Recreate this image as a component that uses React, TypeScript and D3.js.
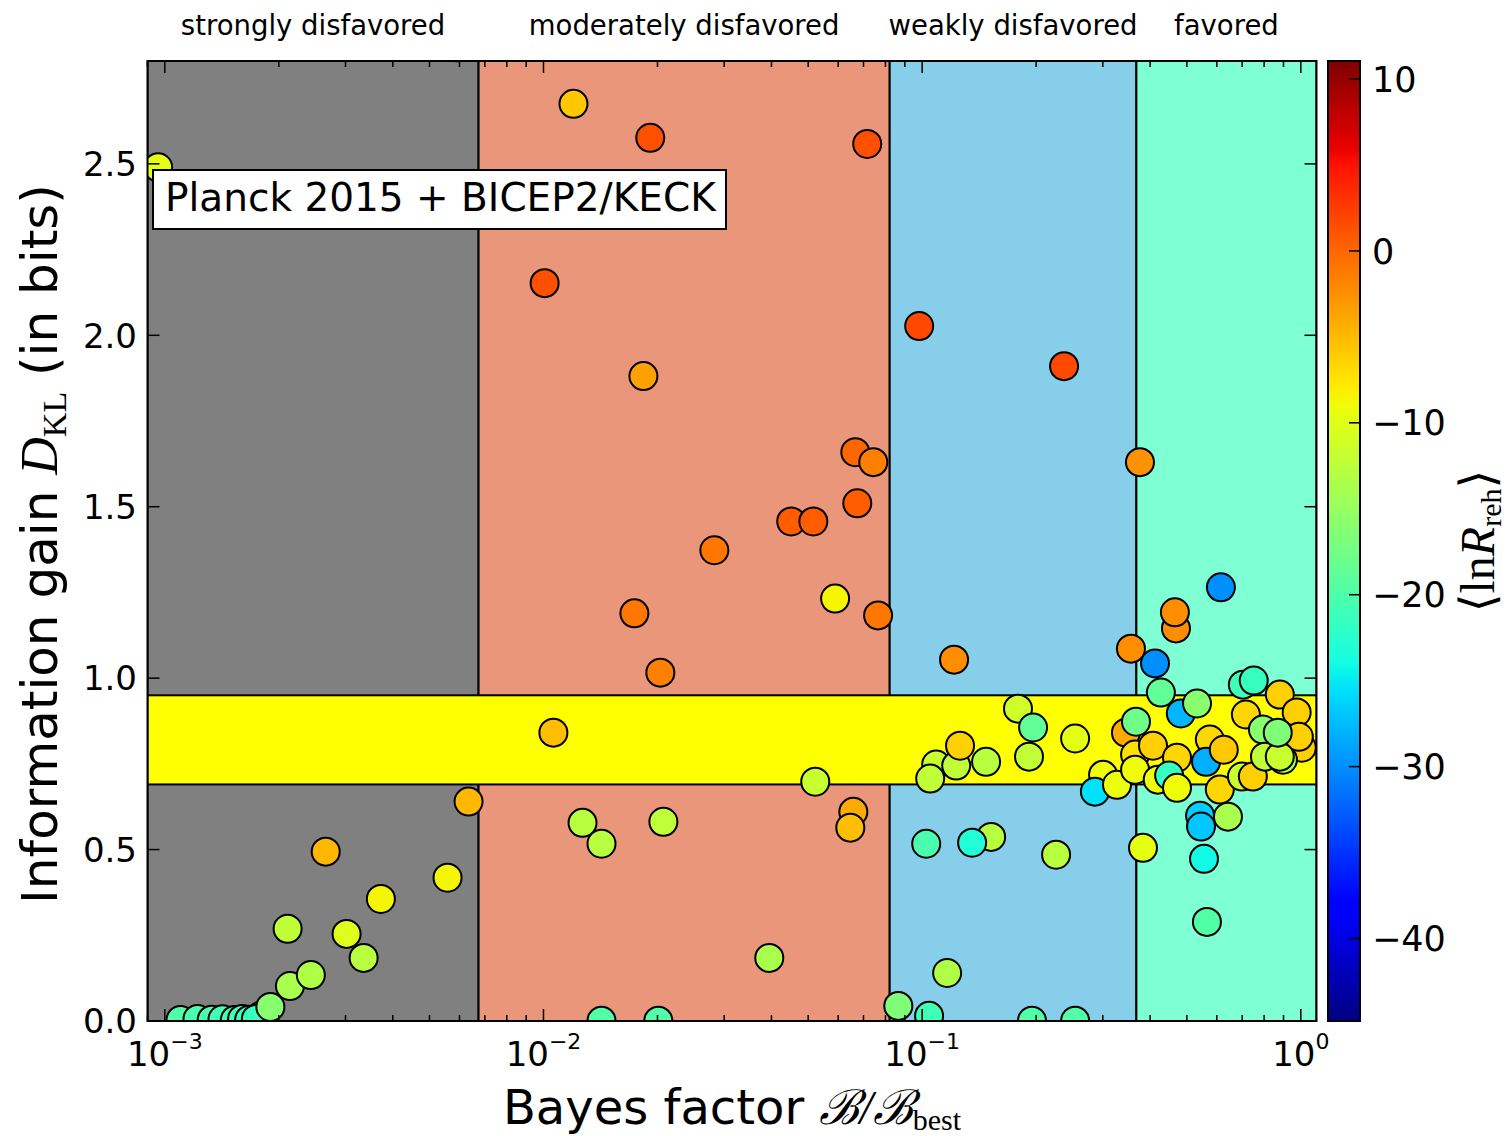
import React from 'react';
import * as d3 from 'd3';

// Bayes factor relative to the best model, per inflationary model
const bayesFactor = [
  // strongly disfavored
  0.00179, 0.0011, 0.00122, 0.00133, 0.00142, 0.00153, 0.0016, 0.00167, 0.00174, 0.0019,
  0.00214, 0.00243, 0.00211, 0.00335, 0.00302, 0.00372, 0.00558, 0.00266, 0.00634, 0.00096, 0.0059,
  // moderately disfavored
  0.012, 0.01914, 0.0716, 0.01007, 0.01836, 0.0666, 0.0743, 0.0451, 0.0516, 0.0674,
  0.02826, 0.0589, 0.01738, 0.0765, 0.02035, 0.01062, 0.0522, 0.0658, 0.0646, 0.01268,
  0.01423, 0.02073, 0.03947, 0.01423, 0.0201, 0.0865,
  // weakly disfavored
  0.0982, 0.237, 0.1214, 0.1089, 0.123, 0.1259, 0.1475, 0.105, 0.1791, 0.1963,
  0.1915, 0.2535, 0.3004, 0.2859, 0.327, 0.1025, 0.1521, 0.1355, 0.2258, 0.1043,
  0.1164, 0.195, 0.2535,
  // favored
  0.356, 0.3453, 0.376, 0.615, 0.468, 0.465, 0.412, 0.427, 0.482, 0.532,
  0.367, 0.703, 0.751, 0.88, 0.975, 0.716, 0.365, 0.365, 0.407, 0.419,
  0.471, 0.449, 0.471, 0.575, 0.562, 0.626, 0.611, 0.794, 0.699, 0.747,
  1.006, 0.897, 0.988, 0.804, 0.88, 0.869, 0.542, 0.545, 0.642, 0.383,
  0.555, 0.565,
];

// Information gain D_KL (bits)
const infoGain = [
  0.015, 0.003, 0.006, 0.004, 0.005, 0.003, 0.006, 0.004, 0.006, 0.041,
  0.102, 0.134, 0.269, 0.184, 0.254, 0.356, 0.418, 0.494, 0.64, 2.49, 2.84,
  2.675, 2.576, 2.558, 2.152, 1.881, 1.659, 1.63, 1.457, 1.457, 1.51,
  1.373, 1.232, 1.189, 1.183, 1.016, 0.841, 0.698, 0.61, 0.564, 0.578,
  0.517, 0.581, 0.184, 0.001, 0.001, 0.044,
  2.027, 1.91, 1.054, 0.748, 0.745, 0.803, 0.756, 0.707, 0.911, 0.856,
  0.771, 0.824, 0.718, 0.669, 0.689, 0.517, 0.537, 0.52, 0.485, 0.015,
  0.14, 0.001, 0.001,
  1.086, 0.841, 1.63, 1.265, 1.145, 1.192, 1.043, 0.958, 0.897, 0.926,
  0.873, 0.981, 0.993, 0.952, 0.9, 0.894, 0.777, 0.733, 0.803, 0.704,
  0.768, 0.716, 0.68, 0.821, 0.756, 0.791, 0.675, 0.85, 0.713, 0.713,
  0.797, 0.762, 0.829, 0.771, 0.771, 0.841, 0.599, 0.567, 0.596, 0.505,
  0.473, 0.289,
];

// Mean log reheating parameter <ln R_reh>
const lnReh = [
  -17, -19.8, -20.3, -20.3, -20.9, -20.9, -20.9, -21.5, -21.5, -16,
  -13.8, -13.3, -12.2, -12.8, -10.2, -8.6, -8.6, -4.8, -4.8, -9.7, -5.2,
  -5.8, 1.3, 1.3, 1.3, -3.5, 0, -1.5, 0.5, 0.5, 0.5,
  -1, -8.6, -1, -1, -1.5, -5.3, -11.7, -4, -5.3, -12.8,
  -12.8, -12.2, -13.8, -19.8, -19.8, -16.6,
  1.7, 1.7, -2.3, -11.7, -12.2, -6.3, -12.8, -12.2, -11.2, -18.7,
  -12.2, -9.7, -9, -25.5, -9.3, -20.3, -12.8, -23, -12.8, -20.9,
  -13.3, -19.8, -19.8,
  -2.3, -4, -2.6, -30, -2.3, -2.3, -30, -18.7, -27.8, -16,
  -17.7, -20.9, -21.5, -6.3, -6.3, -6.7, -7.3, -9, -6.3, -9,
  -6.7, -21.5, -9, -6.7, -28.2, -5.8, -6.7, -16, -11.7, -6.3,
  -6.3, -14, -6.3, -12.2, -11.7, -16.6, -26.5, -26.9, -13.8, -9.7,
  -24.1, -19.8,
];

// Jeffreys-scale evidence classes (edges: ln B = -5, -2.5, -1)
const regionNames = ['strongly disfavored', 'moderately disfavored', 'weakly disfavored', 'favored'];
const regionEdges = [9e-4, Math.exp(-5), Math.exp(-2.5), Math.exp(-1), 1.1];
const bandLimits = [0.69, 0.95];

const yTickValues = [0, 0.5, 1.0, 1.5, 2.0, 2.5];
const xTickExponents = [-3, -2, -1, 0];
const colorTicks = [-40, -30, -20, -10, 0, 10];
const colorDomain = [-44.8, 11.05];

const REGION_FILL = ['#808080', '#e9967a', '#87ceeb', '#7fffd4'];

// matplotlib "jet" colormap
const jetR = d3.scaleLinear<number>().domain([0, 0.35, 0.66, 0.89, 1]).range([0, 0, 1, 1, 0.5]).clamp(true);
const jetG = d3.scaleLinear<number>().domain([0, 0.125, 0.375, 0.64, 0.91, 1]).range([0, 0, 1, 1, 0, 0]).clamp(true);
const jetB = d3.scaleLinear<number>().domain([0, 0.11, 0.34, 0.65, 1]).range([0.5, 1, 1, 0, 0]).clamp(true);
const jet = (t: number) => d3.rgb(jetR(t) * 255, jetG(t) * 255, jetB(t) * 255).formatHex();

const W = 1510;
const H = 1136;
const L = 147.5, R = 1316.5, T = 61, B = 1021;
const CB_L = 1328, CB_R = 1360;

const SANS = 'DejaVu Sans, sans-serif';
const SERIF = 'Liberation Serif, DejaVu Serif, serif';

export default function App() {
  const x = d3.scaleLog().domain([9e-4, 1.1]).range([L, R]);
  const y = d3.scaleLinear().domain([0, 2.8]).range([B, T]);
  const cNorm = d3.scaleLinear().domain(colorDomain).range([0, 1]).clamp(true);
  const cY = d3.scaleLinear().domain(colorDomain).range([B, T]);

  const points = bayesFactor.map((b, i) => ({ b, d: infoGain[i], c: lnReh[i] }));

  const minorTicks: number[] = [];
  for (let e = -4; e <= 0; e++) {
    for (let m = 2; m <= 9; m++) {
      const v = m * Math.pow(10, e);
      if (v > 9e-4 && v < 1.1) minorTicks.push(v);
    }
  }
  const majorTicks = xTickExponents.map((e) => Math.pow(10, e));

  const gradStops = d3.range(0, 57).map((i) => i / 56);

  return (
    <svg width={W} height={H} style={{ position: 'absolute', left: 0, top: 0, background: '#fff' }}
      fontFamily={SANS}>
      <defs>
        <clipPath id="plotClip">
          <rect x={L} y={T} width={R - L} height={B - T} />
        </clipPath>
        <linearGradient id="jetGrad" x1="0" y1="1" x2="0" y2="0">
          {gradStops.map((t) => (
            <stop key={t} offset={t} stopColor={jet(t)} />
          ))}
        </linearGradient>
      </defs>

      {/* evidence regions */}
      <g clipPath="url(#plotClip)">
        {regionNames.map((n, i) => (
          <rect key={n} x={x(regionEdges[i])} y={T} width={x(regionEdges[i + 1]) - x(regionEdges[i])}
            height={B - T} fill={REGION_FILL[i]} stroke="#000" strokeWidth={2} />
        ))}
        <rect x={L} y={y(bandLimits[1])} width={R - L} height={y(bandLimits[0]) - y(bandLimits[1])}
          fill="#ffff00" stroke="#000" strokeWidth={2} />
        {points.map((p, i) => (
          <circle key={i} cx={x(p.b)} cy={y(p.d)} r={14} fill={jet(cNorm(p.c))}
            stroke="#000" strokeWidth={2} />
        ))}
      </g>

      {/* region titles */}
      {regionNames.map((n, i) => (
        <text key={n} x={(x(regionEdges[i]) + x(regionEdges[i + 1])) / 2} y={35}
          textAnchor="middle" fontSize={27.5}>{n}</text>
      ))}

      {/* data set box */}
      <rect x={153} y={170} width={573} height={59} fill="#fff" stroke="#000" strokeWidth={2} />
      <text x={165} y={210.5} fontSize={39}>Planck 2015 + BICEP2/KECK</text>

      {/* frame */}
      <rect x={L} y={T} width={R - L} height={B - T} fill="none" stroke="#000" strokeWidth={2} />

      {/* x ticks */}
      {minorTicks.map((v) => (
        <g key={'m' + v} stroke="#000" strokeWidth={1.5}>
          <line x1={x(v)} x2={x(v)} y1={B} y2={B - 6} />
          <line x1={x(v)} x2={x(v)} y1={T} y2={T + 6} />
        </g>
      ))}
      {majorTicks.map((v, i) => (
        <g key={'M' + v}>
          <line x1={x(v)} x2={x(v)} y1={B} y2={B - 12} stroke="#000" strokeWidth={1.5} />
          <line x1={x(v)} x2={x(v)} y1={T} y2={T + 12} stroke="#000" strokeWidth={1.5} />
          <text x={x(v)} y={1066} textAnchor="middle" fontSize={34}>
            10<tspan fontSize={22} dy={-17}>{xTickExponents[i] < 0 ? '\u2212' + Math.abs(xTickExponents[i]) : String(xTickExponents[i])}</tspan>
          </text>
        </g>
      ))}

      {/* y ticks */}
      {yTickValues.map((v) => (
        <g key={'y' + v}>
          <line x1={L} x2={L + 12} y1={y(v)} y2={y(v)} stroke="#000" strokeWidth={1.5} />
          <line x1={R} x2={R - 12} y1={y(v)} y2={y(v)} stroke="#000" strokeWidth={1.5} />
          <text x={137} y={y(v)} dy="0.36em" textAnchor="end" fontSize={34}>{v.toFixed(1)}</text>
        </g>
      ))}

      {/* axis labels */}
      <text x={(L + R) / 2} y={1124} textAnchor="middle" fontSize={48}>
        Bayes factor <tspan fontFamily={SERIF} fontStyle="italic">{'\u212C/\u212C'}</tspan>
        <tspan fontFamily={SERIF} fontSize={30} dy={6}>best</tspan>
      </text>
      <text transform={`translate(57,${(T + B) / 2 + 3}) rotate(-90)`} textAnchor="middle" fontSize={50}>
        Information gain <tspan fontFamily={SERIF} fontStyle="italic" fontSize={52}>D</tspan>
        <tspan fontFamily={SERIF} fontSize={34} dy={9}>KL</tspan>
        <tspan dy={-9}>{' (in bits)'}</tspan>
      </text>

      {/* colorbar */}
      <rect x={CB_L} y={T} width={CB_R - CB_L} height={B - T} fill="url(#jetGrad)" stroke="#000" strokeWidth={2} />
      {colorTicks.map((v) => (
        <g key={'c' + v}>
          <line x1={CB_R} x2={CB_R - 11} y1={cY(v)} y2={cY(v)} stroke="#000" strokeWidth={1.5} />
          <text x={1372} y={cY(v)} dy="0.36em" fontSize={35}>{v < 0 ? '\u2212' + Math.abs(v) : String(v)}</text>
        </g>
      ))}
      <text transform={`translate(1494,${(T + B) / 2}) rotate(-90)`} textAnchor="middle" fontSize={48}
        fontFamily={SERIF}>
        {'\u27E8ln'}<tspan fontStyle="italic">R</tspan>
        <tspan fontSize={30} dy={7}>reh</tspan>
        <tspan dy={-7}>{'\u27E9'}</tspan>
      </text>
    </svg>
  );
}
